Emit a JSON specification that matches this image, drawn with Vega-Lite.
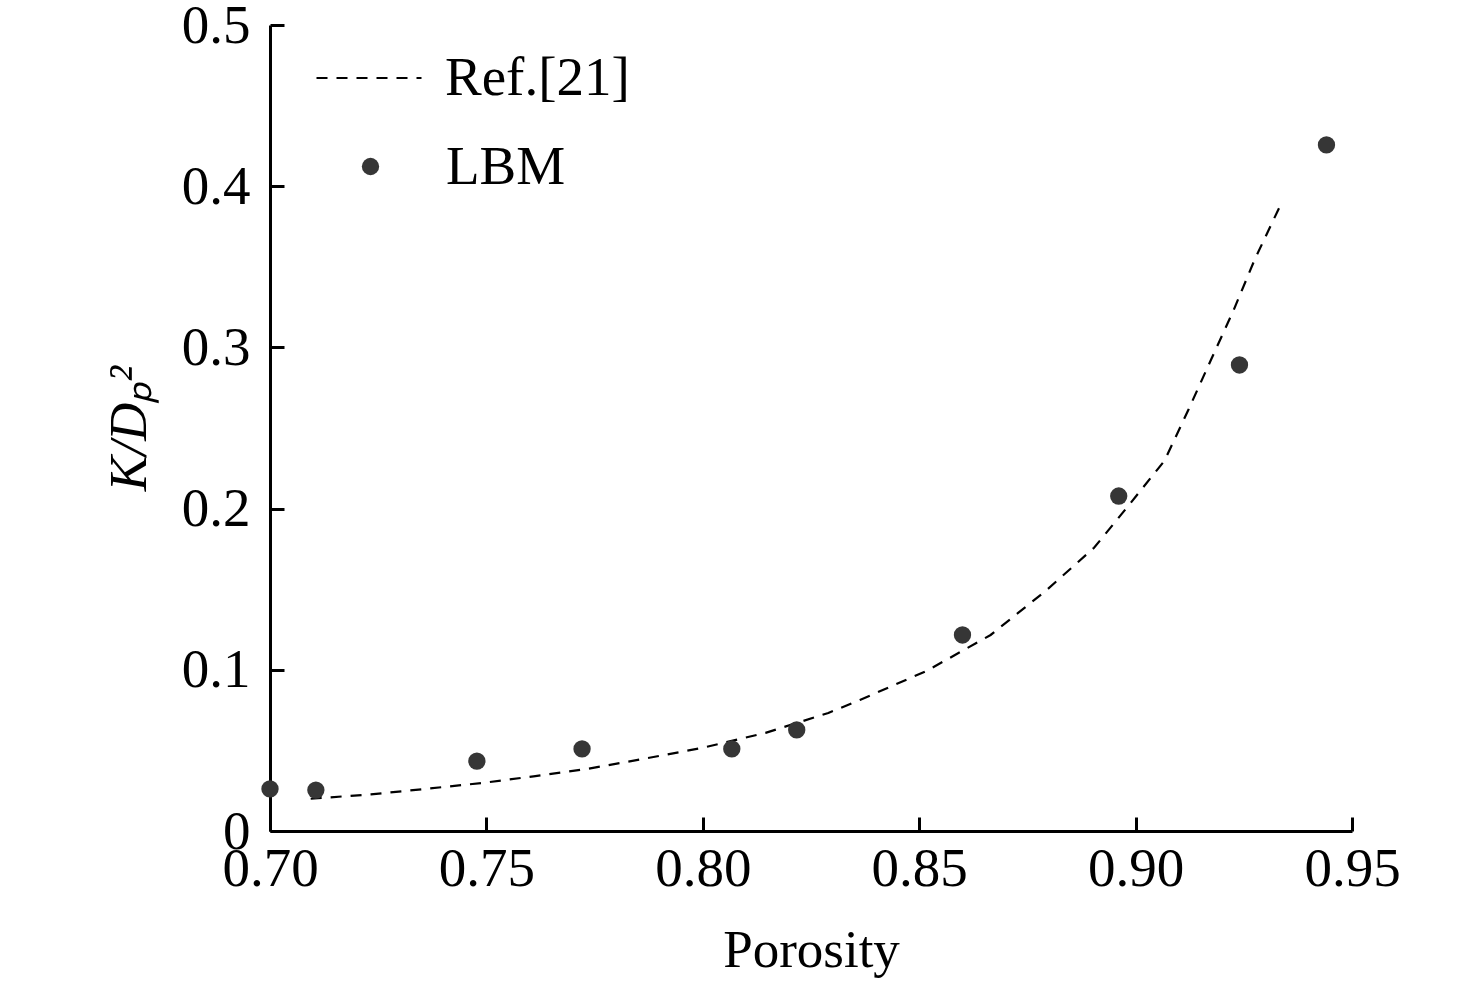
{
  "$schema": "https://vega.github.io/schema/vega-lite/v6.json",
  "autosize": "none",
  "padding": {"left": 270, "top": 25, "right": 124, "bottom": 154},
  "width": 1082,
  "height": 806,
  "background": "white",
  "config": {
    "font": "Liberation Serif",
    "view": {"stroke": null},
    "axis": {
      "grid": false,
      "domainColor": "black",
      "domainWidth": 3,
      "tickColor": "black",
      "tickWidth": 3,
      "tickSize": -14,
      "labelFlush": false,
      "labelFont": "Liberation Serif",
      "labelFontSize": 55,
      "labelColor": "black",
      "titleFont": "Liberation Serif",
      "titleFontSize": 53,
      "titleFontWeight": "normal",
      "titleColor": "black"
    },
    "legend": {
      "labelFont": "Liberation Serif",
      "labelFontSize": 55,
      "labelColor": "black",
      "labelLimit": 500,
      "padding": 0
    }
  },
  "datasets": {
    "ref": [
      {"porosity": 0.7094, "k": 0.0200, "series": "Ref.[21]"},
      {"porosity": 0.7233, "k": 0.0227, "series": "Ref.[21]"},
      {"porosity": 0.7362, "k": 0.0262, "series": "Ref.[21]"},
      {"porosity": 0.7491, "k": 0.0298, "series": "Ref.[21]"},
      {"porosity": 0.7609, "k": 0.0339, "series": "Ref.[21]"},
      {"porosity": 0.7733, "k": 0.0385, "series": "Ref.[21]"},
      {"porosity": 0.7862, "k": 0.0447, "series": "Ref.[21]"},
      {"porosity": 0.8001, "k": 0.0517, "series": "Ref.[21]"},
      {"porosity": 0.8145, "k": 0.0609, "series": "Ref.[21]"},
      {"porosity": 0.8290, "k": 0.0732, "series": "Ref.[21]"},
      {"porosity": 0.8363, "k": 0.0813, "series": "Ref.[21]"},
      {"porosity": 0.8517, "k": 0.0993, "series": "Ref.[21]"},
      {"porosity": 0.8665, "k": 0.1216, "series": "Ref.[21]"},
      {"porosity": 0.8792, "k": 0.1489, "series": "Ref.[21]"},
      {"porosity": 0.8904, "k": 0.1757, "series": "Ref.[21]"},
      {"porosity": 0.8991, "k": 0.2043, "series": "Ref.[21]"},
      {"porosity": 0.9067, "k": 0.2298, "series": "Ref.[21]"},
      {"porosity": 0.9122, "k": 0.2613, "series": "Ref.[21]"},
      {"porosity": 0.9175, "k": 0.2928, "series": "Ref.[21]"},
      {"porosity": 0.9226, "k": 0.3228, "series": "Ref.[21]"},
      {"porosity": 0.9275, "k": 0.3544, "series": "Ref.[21]"},
      {"porosity": 0.9336, "k": 0.3890, "series": "Ref.[21]"}
    ],
    "lbm": [
      {"porosity": 0.7000, "k": 0.0261, "series": "LBM"},
      {"porosity": 0.7106, "k": 0.0254, "series": "LBM"},
      {"porosity": 0.7478, "k": 0.0434, "series": "LBM"},
      {"porosity": 0.7721, "k": 0.0509, "series": "LBM"},
      {"porosity": 0.8067, "k": 0.0509, "series": "LBM"},
      {"porosity": 0.8217, "k": 0.0627, "series": "LBM"},
      {"porosity": 0.8600, "k": 0.1216, "series": "LBM"},
      {"porosity": 0.8961, "k": 0.2078, "series": "LBM"},
      {"porosity": 0.9240, "k": 0.2891, "series": "LBM"},
      {"porosity": 0.9441, "k": 0.4256, "series": "LBM"}
    ]
  },
  "encoding": {
    "x": {
      "field": "porosity",
      "type": "quantitative",
      "scale": {"domain": [0.7, 0.95], "nice": false, "zero": false},
      "axis": {
        "title": "Porosity",
        "values": [0.7, 0.75, 0.8, 0.85, 0.9, 0.95],
        "format": ".2f",
        "labelPadding": 25,
        "titlePadding": 28
      }
    },
    "y": {
      "field": "k",
      "type": "quantitative",
      "scale": {"domain": [0, 0.5], "nice": false},
      "axis": {
        "title": "K/Dₚ²",
        "titleFontStyle": "italic",
        "values": [0, 0.1, 0.2, 0.3, 0.4, 0.5],
        "labelExpr": "datum.value == 0 ? '0' : format(datum.value, '.1f')",
        "labelPadding": 34,
        "titlePadding": 25
      }
    }
  },
  "layer": [
    {
      "data": {"name": "ref"},
      "mark": {"type": "line", "color": "black", "strokeWidth": 2.2, "clip": true},
      "encoding": {
        "strokeDash": {
          "field": "series",
          "type": "nominal",
          "scale": {"domain": ["Ref.[21]"], "range": [[11, 9]]},
          "legend": {
            "title": null,
            "orient": "none",
            "legendX": 45,
            "legendY": -1,
            "symbolType": "stroke",
            "symbolSize": 11025,
            "symbolStrokeWidth": 2.2,
            "symbolStrokeColor": "black",
            "symbolDash": [13, 11],
            "labelOffset": 22
          }
        }
      }
    },
    {
      "data": {"name": "lbm"},
      "mark": {"type": "point", "filled": true, "color": "#363636", "size": 300, "opacity": 1, "clip": false},
      "encoding": {
        "shape": {
          "field": "series",
          "type": "nominal",
          "scale": {"domain": ["LBM"], "range": ["circle"]},
          "legend": {
            "title": null,
            "orient": "none",
            "legendX": 73,
            "legendY": 114,
            "symbolType": "circle",
            "symbolSize": 300,
            "symbolFillColor": "#363636",
            "symbolStrokeColor": "#363636",
            "symbolOpacity": 1,
            "labelOffset": 48
          }
        }
      }
    }
  ]
}
